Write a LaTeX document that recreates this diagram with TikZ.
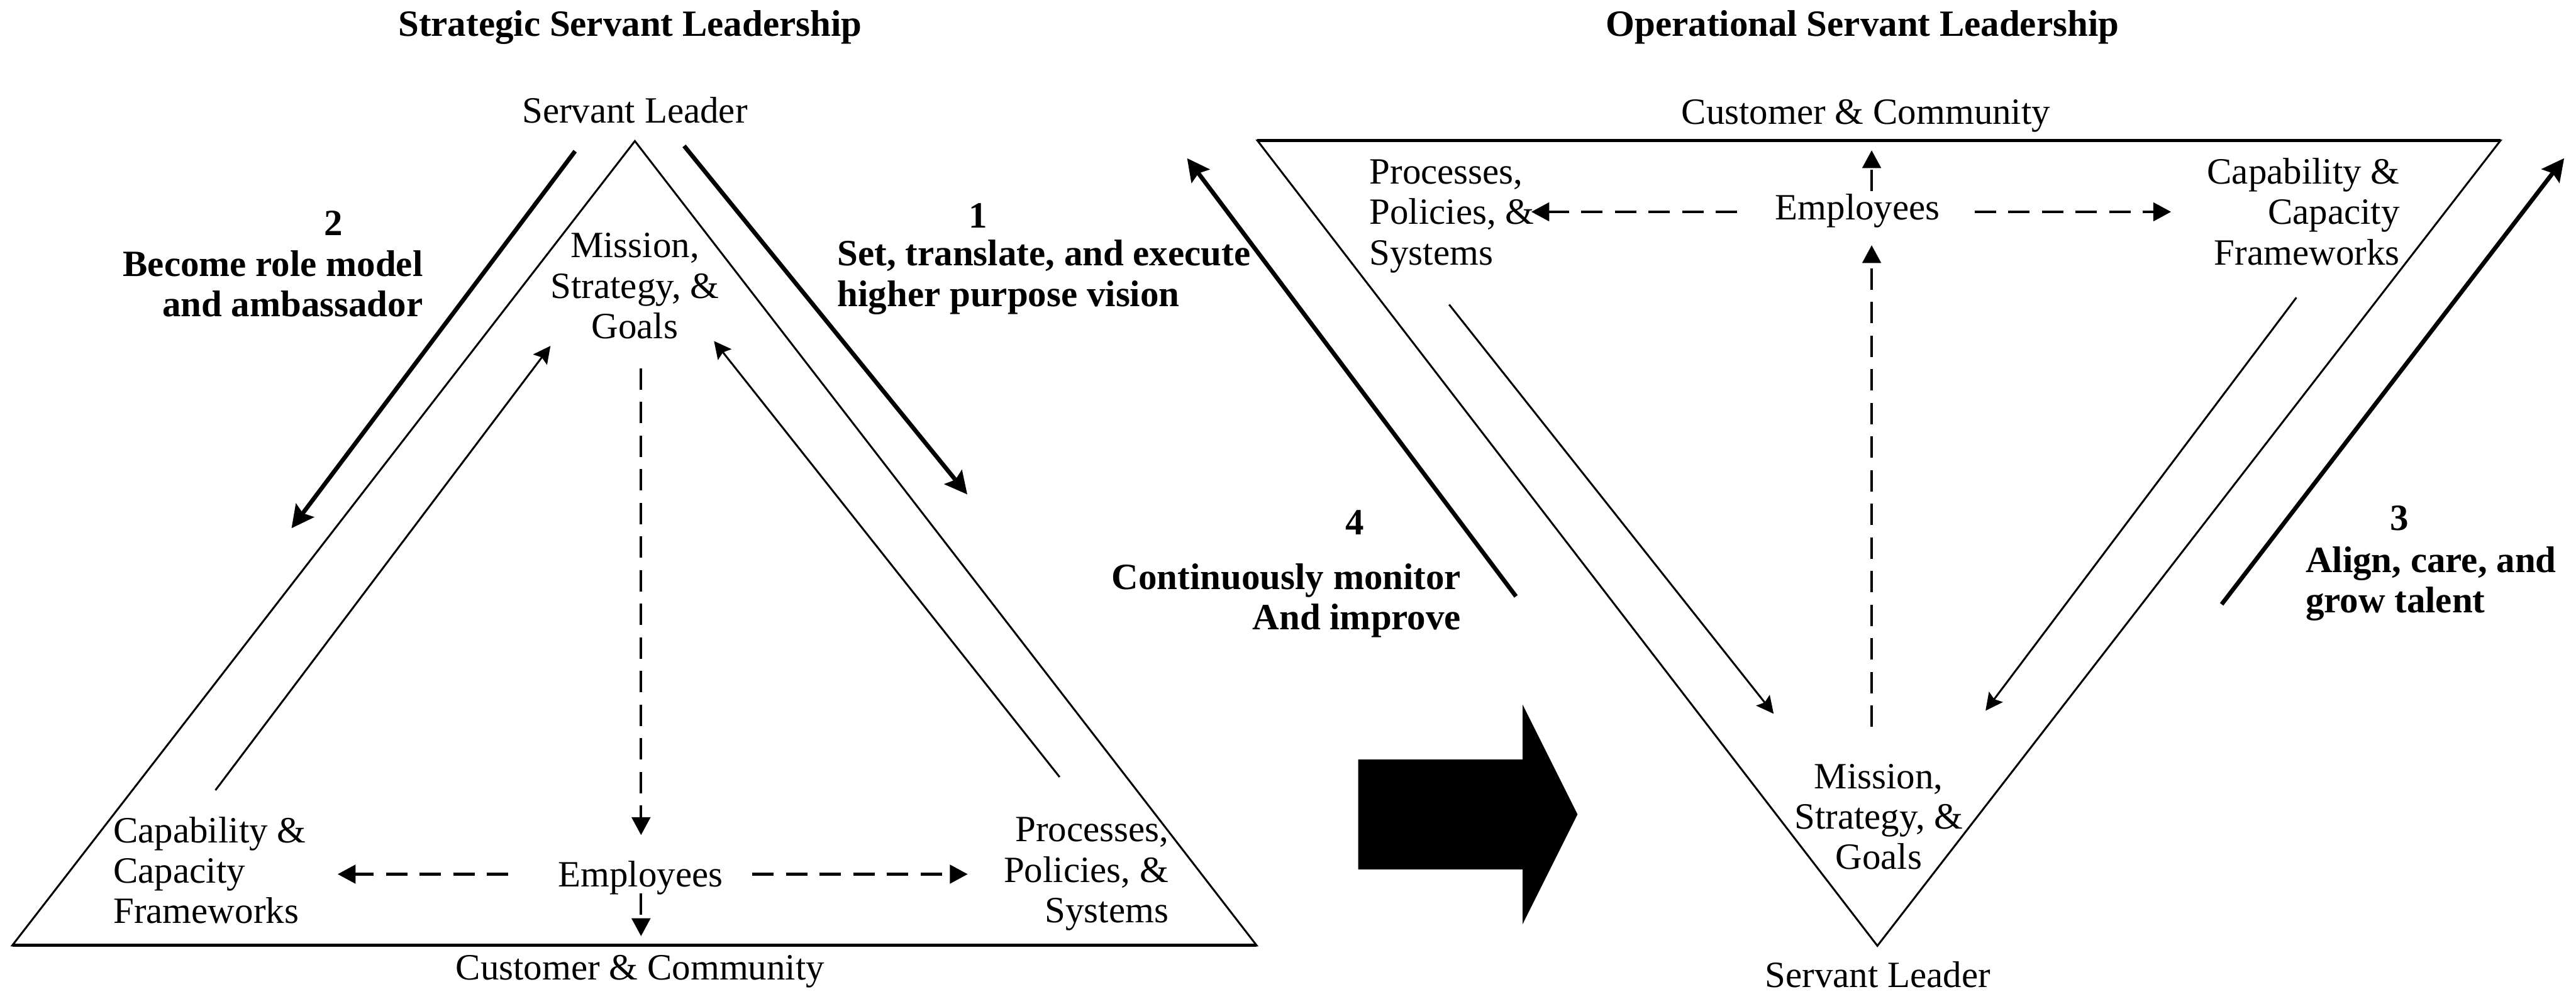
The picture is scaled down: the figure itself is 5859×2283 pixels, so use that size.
\documentclass[tikz,border=0pt]{standalone}
\usepackage{fontspec}
\setmainfont{Liberation Serif}
\usetikzlibrary{arrows.meta}
\newcommand{\mlines}[2]{\begin{tabular}[t]{@{}#1@{}}#2\end{tabular}}
\tikzset{
  every node/.style={inner sep=0pt, outer sep=0pt, font=\fontsize{10.8}{11.8}\selectfont},
  lbl/.style={font=\fontsize{10.8}{11.8}\selectfont\bfseries},
  edge/.style={line width=0.55pt, line join=miter},
  baseedge/.style={line width=1pt},
  bigarr/.style={line width=1.25pt, -{Stealth[length=6.5pt,width=6.5pt,inset=1pt]}},
  smallarr/.style={line width=0.55pt, -{Stealth[length=5pt,width=5pt,inset=0.8pt]}},
  dasharr/.style={line width=0.75pt, dash pattern=on 6.2pt off 3.6pt, -{Triangle[length=5.2pt,width=5.4pt]}},
}
\begin{document}
\begin{tikzpicture}[x=0.0045cm, y=-0.0045cm]
\useasboundingbox (0,0) rectangle (5859,2283);

% ---------- left triangle ----------
\coordinate (LA) at (1444,321);
\coordinate (LB) at (28,2151);
\coordinate (LC) at (2858,2151);
\draw[edge] (LB) -- (LA) -- (LC) -- cycle;
\draw[baseedge] (LB) -- (LC);

% ---------- right triangle ----------
\coordinate (RA) at (2860,320);
\coordinate (RB) at (5687,320);
\coordinate (RC) at (4270,2152);
\draw[edge] (RA) -- (RB) -- (RC) -- cycle;
\draw[baseedge] (RA) -- (RB);

% ---------- titles ----------
\node[lbl, anchor=base] (titleL) at (1433,83) {Strategic Servant Leadership};
\node[lbl, anchor=base] (titleR) at (4236,83) {Operational Servant Leadership};

% ---------- left texts ----------
\node[anchor=base] (slL) at (1444,280) {Servant Leader};
\node[anchor=base] (ccL) at (1456,2230) {Customer \& Community};
\node[anchor=base] (msgL) at (1444,586) {\mlines{c}{Mission,\\Strategy, \&\\Goals}};
\node[anchor=base] (empL) at (1457,2018) {Employees};
\node[anchor=base west] (capL) at (258,1917) {\mlines{l}{Capability \&\\Capacity\\Frameworks}};
\node[anchor=base east] (ppsL) at (2658,1915) {\mlines{r}{Processes,\\Policies, \&\\Systems}};

% ---------- right texts ----------
\node[anchor=base] (ccR) at (4244,283) {Customer \& Community};
\node[anchor=base] (slR) at (4271,2247) {Servant Leader};
\node[anchor=base] (msgR) at (4273,1794) {\mlines{c}{Mission,\\Strategy, \&\\Goals}};
\node[anchor=base] (empR) at (4225,500) {Employees};
\node[anchor=base west] (ppsR) at (3115,418) {\mlines{l}{Processes,\\Policies, \&\\Systems}};
\node[anchor=base east] (capR) at (5458,418) {\mlines{r}{Capability \&\\Capacity\\Frameworks}};

% ---------- step labels ----------
\node[lbl, anchor=base] (n2) at (758,536) {2};
\node[lbl, anchor=base east] (t2) at (962,628) {\mlines{r}{Become role model\\and ambassador}};
\node[lbl, anchor=base] (n1) at (2225,519) {1};
\node[lbl, anchor=base west] (t1) at (1905,605) {\mlines{l}{Set, translate, and execute\\higher purpose vision}};
\node[lbl, anchor=base] (n4) at (3082,1217) {4};
\node[lbl, anchor=base east] (t4) at (3323,1341) {\mlines{r}{Continuously monitor\\And improve}};
\node[lbl, anchor=base] (n3) at (5458,1206) {3};
\node[lbl, anchor=base west] (t3) at (5244,1302) {\mlines{l}{Align, care, and\\grow talent}};

% ---------- thick arrows ----------
\coordinate (a1s) at (1556,332);  \coordinate (a1e) at (2200,1125);
\coordinate (a2s) at (1308,344);  \coordinate (a2e) at (663,1202);
\coordinate (a4s) at (3448,1357); \coordinate (a4e) at (2700,360);
\coordinate (a3s) at (5053,1375); \coordinate (a3e) at (5832,360);
\draw[bigarr] (a1s) -- (a1e);
\draw[bigarr] (a2s) -- (a2e);
\draw[bigarr] (a4s) -- (a4e);
\draw[bigarr] (a3s) -- (a3e);

% ---------- thin arrows ----------
\coordinate (b1s) at (490,1798);  \coordinate (b1e) at (1252,787);
\coordinate (b2s) at (2410,1768); \coordinate (b2e) at (1624,776);
\coordinate (b3s) at (3296,693);  \coordinate (b3e) at (4034,1624);
\coordinate (b4s) at (5223,677);  \coordinate (b4e) at (4516,1617);
\draw[smallarr] (b1s) -- (b1e);
\draw[smallarr] (b2s) -- (b2e);
\draw[smallarr] (b3s) -- (b3e);
\draw[smallarr] (b4s) -- (b4e);

% ---------- dashed arrows, left ----------
\coordinate (d1s) at (1458,838);  \coordinate (d1e) at (1458,1900);
\coordinate (d2s) at (1458,2033); \coordinate (d2e) at (1458,2130);
\coordinate (d3s) at (1156,1989); \coordinate (d3e) at (768,1989);
\coordinate (d4s) at (1711,1989); \coordinate (d4e) at (2201,1989);
\draw[dasharr] (d1s) -- (d1e);
\draw[dasharr] (d2s) -- (d2e);
\draw[dasharr] (d3s) -- (d3e);
\draw[dasharr] (d4s) -- (d4e);

% ---------- dashed arrows, right ----------
\coordinate (e1s) at (4257,1654); \coordinate (e1e) at (4257,558);
\coordinate (e2s) at (4257,435);  \coordinate (e2e) at (4257,342);
\coordinate (e3s) at (3951,482);  \coordinate (e3e) at (3483,482);
\coordinate (e4s) at (4491,482);  \coordinate (e4e) at (4938,482);
\draw[dasharr] (e1s) -- (e1e);
\draw[dasharr] (e2s) -- (e2e);
\draw[dasharr] (e3s) -- (e3e);
\draw[dasharr] (e4s) -- (e4e);

% ---------- big block arrow ----------
\fill (3089,1728) -- (3463,1728) -- (3463,1603) -- (3588,1853) -- (3463,2103) -- (3463,1978) -- (3089,1978) -- cycle;

\end{tikzpicture}
\end{document}
